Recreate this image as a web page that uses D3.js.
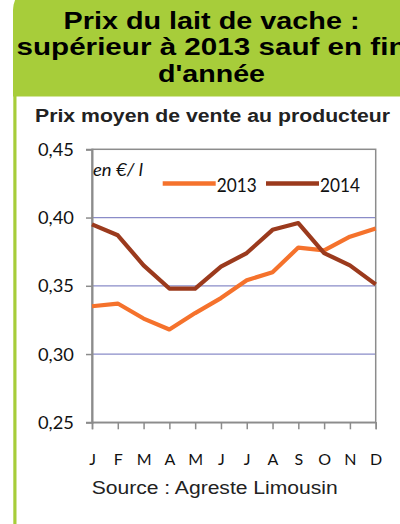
<!DOCTYPE html>
<html>
<head>
<meta charset="utf-8">
<script src="https://cdn.jsdelivr.net/npm/d3@7"></script>
<style>
html,body{margin:0;padding:0;background:#fff;}
svg{display:block;}
</style>
</head>
<body>
<script>
const months = ["janv","févr","mars","avr","mai","juin","juil","août","sept","oct","nov","déc"];
const monthLabels = ["J","F","M","A","M","J","J","A","S","O","N","D"];
const values2013 = [0.335,0.337,0.326,0.318,0.330,0.341,0.354,0.360,0.378,0.376,0.386,0.392];
const values2014 = [0.395,0.387,0.365,0.348,0.348,0.364,0.374,0.391,0.396,0.374,0.365,0.351];
const seriesNames = ["2013","2014"];
const yTicks = [0.25,0.30,0.35,0.40,0.45];
const titleLines = ["Prix du lait de vache :","supérieur à 2013 sauf en fin","d'année"];
const subtitle = "Prix moyen de vente au producteur";
const unitLabel = "en €/ l";
const sourceText = "Source : Agreste Limousin";

const W = 400, H = 524;
const green = "#a7cd3a";
const colors = ["#f5722c", "#9b3a1d"];

const svg = d3.select("body").append("svg").attr("width", W).attr("height", H);
svg.append("rect").attr("width", W).attr("height", H).attr("fill", "#fff");

// header (rounded top-left only)
svg.append("path").attr("d", "M13,96.5 L13,10 A25,25 0 0 1 38,-15 L400,-15 L400,96.5 Z")
  .attr("fill", green);
// left border
svg.append("rect").attr("x", 13.3).attr("y", 90).attr("width", 3.2).attr("height", H - 90).attr("fill", green);

// title
const titleY = [29, 55.3, 81.7];
const titleLen = [296, 390, 107];
svg.selectAll("text.title").data(titleLines).join("text")
  .attr("class", "title")
  .attr("x", 211.5).attr("y", (d, i) => titleY[i])
  .attr("text-anchor", "middle")
  .attr("font-family", "Liberation Sans, Arial, sans-serif")
  .attr("font-weight", "bold").attr("font-size", 24)
  .attr("fill", "#000")
  .attr("textLength", (d, i) => titleLen[i]).attr("lengthAdjust", "spacingAndGlyphs")
  .text(d => d);

svg.append("text").attr("x", 212.5).attr("y", 121.7).attr("text-anchor", "middle")
  .attr("font-family", "Liberation Sans, Arial, sans-serif")
  .attr("font-weight", "bold").attr("font-size", 18).attr("fill", "#222")
  .attr("textLength", 355).attr("lengthAdjust", "spacingAndGlyphs")
  .text(subtitle);

// scales
const x = d3.scalePoint().domain(months).range([92, 375.7]);
const y = d3.scaleLinear().domain([0.25, 0.45]).range([422.3, 149.3]);

// gridlines
svg.append("g").selectAll("line").data(yTicks.filter(t => t > 0.25 && t < 0.45)).join("line")
  .attr("x1", 92).attr("x2", 375.7)
  .attr("y1", d => y(d)).attr("y2", d => y(d))
  .attr("stroke", "#8a8cc8").attr("stroke-width", 1.2);

// plot frame
svg.append("rect").attr("x", 92).attr("y", y(0.45)).attr("width", 375.7 - 92)
  .attr("height", y(0.25) - y(0.45)).attr("fill", "none")
  .attr("stroke", "#8c8c8c").attr("stroke-width", 1.5);

// axes
const yAxis = svg.append("g").attr("transform", "translate(92,0)")
  .call(d3.axisLeft(y).tickValues(yTicks).tickSize(6).tickPadding(12)
    .tickFormat(d => d3.format(".2f")(d).replace(".", ",")));
yAxis.select(".domain").attr("stroke", "#8c8c8c").attr("stroke-width", 2);
yAxis.selectAll(".tick line").attr("stroke", "#8c8c8c").attr("stroke-width", 1.5);
yAxis.selectAll(".tick text")
  .attr("font-family", "Lato, sans-serif").attr("font-size", 17).attr("fill", "#111")
  .attr("textLength", 36).attr("lengthAdjust", "spacingAndGlyphs")
  .attr("dy", "0.36em");

const xAxis = svg.append("g").attr("transform", `translate(0,${y(0.25)})`)
  .call(d3.axisBottom(x).tickSize(7).tickPadding(25)
    .tickFormat((d, i) => monthLabels[i]));
xAxis.select(".domain").attr("stroke", "#8c8c8c").attr("stroke-width", 1.5);
xAxis.selectAll(".tick line").attr("stroke", "#8c8c8c").attr("stroke-width", 1.5);
xAxis.selectAll(".tick text")
  .attr("font-family", "Lato, sans-serif").attr("font-size", 16).attr("fill", "#111")
  .attr("dy", "0")
  .attr("y", 465 - y(0.25));

// lines
const line = d3.line().x((d, i) => x(months[i])).y(d => y(d));
[values2013, values2014].forEach((vals, k) => {
  svg.append("path").datum(vals).attr("d", line)
    .attr("fill", "none").attr("stroke", colors[k]).attr("stroke-width", 4.2)
    .attr("stroke-linejoin", "round");
});

// unit label
svg.append("text").attr("x", 93).attr("y", 176)
  .attr("font-family", "Lato, sans-serif").attr("font-style", "italic")
  .attr("font-size", 17).attr("fill", "#111")
  .attr("textLength", 50).attr("lengthAdjust", "spacingAndGlyphs")
  .text(unitLabel);

// legend
const legX = [162.7, 266];
seriesNames.forEach((n, k) => {
  svg.append("line").attr("x1", legX[k]).attr("x2", legX[k] + 53)
    .attr("y1", 183.5).attr("y2", 183.5)
    .attr("stroke", colors[k]).attr("stroke-width", 4.5);
  svg.append("text").attr("x", legX[k] + 54).attr("y", 191.7)
    .attr("font-family", "Lato, sans-serif").attr("font-size", 18.5).attr("fill", "#111")
    .attr("textLength", 40).attr("lengthAdjust", "spacingAndGlyphs")
    .text(n);
});

// source
svg.append("text").attr("x", 91.7).attr("y", 494.3)
  .attr("font-family", "Liberation Sans, Arial, sans-serif")
  .attr("font-size", 18).attr("fill", "#222")
  .attr("textLength", 246).attr("lengthAdjust", "spacingAndGlyphs")
  .text(sourceText);
</script>
</body>
</html>
